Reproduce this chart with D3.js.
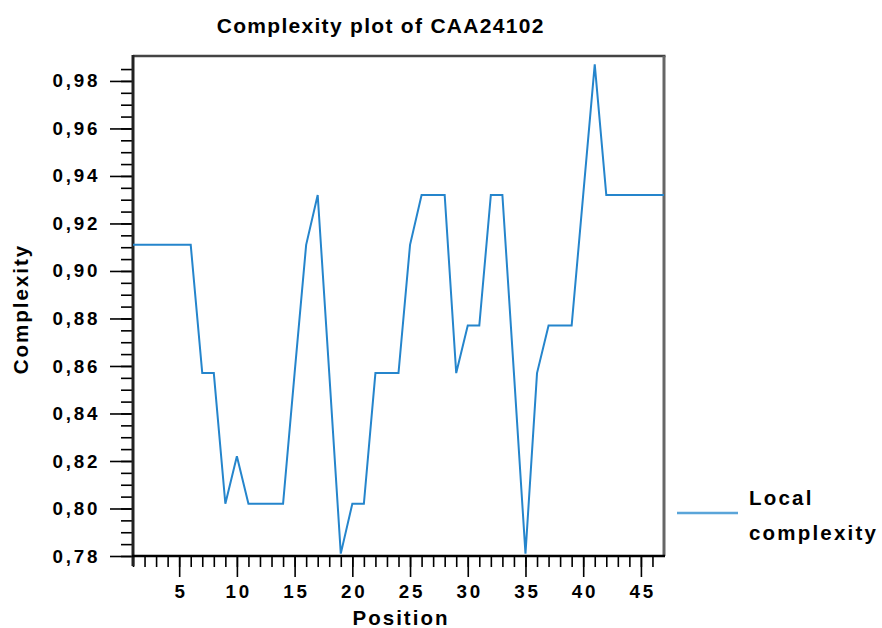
<!DOCTYPE html>
<html>
<head>
<meta charset="utf-8">
<script src="https://cdn.jsdelivr.net/npm/d3@7/dist/d3.min.js"></script>
<style>
  html, body { margin: 0; padding: 0; background: #fff; }
  svg { display: block; }
  text { font-family: "Liberation Sans", Arial, sans-serif; font-weight: bold; fill: #000; }
</style>
</head>
<body>
<script>
// ---- data ----
const positions = [1,2,3,4,5,6,7,8,9,10,11,12,13,14,15,16,17,18,19,20,21,22,23,24,25,26,27,28,29,30,31,32,33,34,35,36,37,38,39,40,41,42,43,44,45,46,47];
const complexity = [
  0.911,0.911,0.911,0.911,0.911,0.911,0.857,0.857,0.802,0.822,
  0.802,0.802,0.802,0.802,0.857,0.911,0.932,0.857,0.781,0.802,
  0.802,0.857,0.857,0.857,0.911,0.932,0.932,0.932,0.857,0.877,
  0.877,0.932,0.932,0.857,0.781,0.857,0.877,0.877,0.877,0.932,
  0.987,0.932,0.932,0.932,0.932,0.932,0.932
];
const yTickValues = [0.78,0.80,0.82,0.84,0.86,0.88,0.90,0.92,0.94,0.96,0.98];
const xTickValues = [5,10,15,20,25,30,35,40,45];
const titleText = "Complexity plot of CAA24102";
const xLabel = "Position";
const yLabel = "Complexity";
const legendLabel = ["Local", "complexity"];

// ---- layout ----
const W = 882, H = 628;
const mLeft = 133, mRight = 664, mTop = 56, mBottom = 556;
const lineColor = "#2585cc";

const svg = d3.select("body").append("svg").attr("width", W).attr("height", H);

const x = d3.scaleLinear().domain([1, 47]).range([mLeft, mRight]);
const y = d3.scaleLinear().domain([0.78, 0.9905]).range([mBottom, mTop]);

// frame (top/right dark grey)
svg.append("line").attr("x1", mLeft).attr("x2", mRight + 1.5).attr("y1", mTop).attr("y2", mTop)
  .attr("stroke", "#444").attr("stroke-width", 2.5);
svg.append("line").attr("x1", mRight).attr("x2", mRight).attr("y1", mTop).attr("y2", mBottom)
  .attr("stroke", "#666").attr("stroke-width", 3);

// minor ticks
const yMinor = d3.range(0, 42).map(i => +(0.78 + i * 0.005).toFixed(3)).filter(v => v <= 0.9855);
const xMinor = d3.range(1, 47);

const yAxisMinor = d3.axisLeft(y).tickValues(yMinor).tickSize(12).tickFormat("");
const yAxisMajor = d3.axisLeft(y).tickValues(yTickValues).tickSize(23).tickPadding(12)
  .tickFormat(d => d.toFixed(2).replace(".", ","));
const xAxisMinor = d3.axisBottom(x).tickValues(xMinor).tickSize(11).tickFormat("");
const xAxisMajor = d3.axisBottom(x).tickValues(xTickValues).tickSize(21).tickPadding(8)
  .tickFormat(d => d);

function styleAxis(g) {
  g.select(".domain").remove();
  g.selectAll(".tick line").attr("stroke", "#000").attr("stroke-width", 1.6);
}

svg.append("g").attr("transform", `translate(${mLeft},0)`).call(yAxisMinor).call(styleAxis);
const gy = svg.append("g").attr("transform", `translate(${mLeft},0)`).call(yAxisMajor).call(styleAxis);
gy.selectAll(".tick text")
  .style("font-family", "'Liberation Sans', Arial, sans-serif").style("font-weight", "bold")
  .attr("font-size", 18.8).attr("fill", "#000")
  .style("letter-spacing", "2.8px").attr("dx", 2.3);

svg.append("g").attr("transform", `translate(0,${mBottom})`).call(xAxisMinor).call(styleAxis);
const gx = svg.append("g").attr("transform", `translate(0,${mBottom})`).call(xAxisMajor).call(styleAxis);
gx.selectAll(".tick text")
  .style("font-family", "'Liberation Sans', Arial, sans-serif").style("font-weight", "bold")
  .attr("font-size", 18.8).attr("fill", "#000")
  .style("letter-spacing", "2.8px").attr("dx", 1.4);

// axis lines (left & bottom black)
svg.append("line").attr("x1", mLeft).attr("x2", mLeft).attr("y1", mTop - 1).attr("y2", mBottom + 10)
  .attr("stroke", "#222").attr("stroke-width", 3);
svg.append("line").attr("x1", mLeft - 1).attr("x2", mRight + 1).attr("y1", mBottom).attr("y2", mBottom)
  .attr("stroke", "#000").attr("stroke-width", 2.5);

// data line
const line = d3.line().x((d, i) => x(positions[i])).y(d => y(d));
svg.append("path").datum(complexity)
  .attr("d", line).attr("fill", "none")
  .attr("stroke", lineColor).attr("stroke-width", 2).attr("stroke-linejoin", "miter");

// title
svg.append("text").attr("x", 380 + 0.7).attr("y", 33).attr("text-anchor", "middle")
  .attr("font-size", 21).style("letter-spacing", "1.3px").text(titleText);

// axis labels
svg.append("text").attr("x", 400 + 1).attr("y", 625).attr("text-anchor", "middle")
  .attr("font-size", 20.5).style("letter-spacing", "2px").text(xLabel);
svg.append("text").attr("transform", `translate(28,${308 + 1}) rotate(-90)`).attr("text-anchor", "middle")
  .attr("font-size", 20.5).style("letter-spacing", "2px").text(yLabel);

// legend
svg.append("line").attr("x1", 677).attr("x2", 738).attr("y1", 513).attr("y2", 513)
  .attr("stroke", "#5aa5d9").attr("stroke-width", 2.5);
svg.append("text").attr("x", 749).attr("y", 505).attr("font-size", 20.5)
  .style("letter-spacing", "2.2px").text(legendLabel[0]);
svg.append("text").attr("x", 749).attr("y", 540).attr("font-size", 20.5)
  .style("letter-spacing", "2.2px").text(legendLabel[1]);
</script>
</body>
</html>
